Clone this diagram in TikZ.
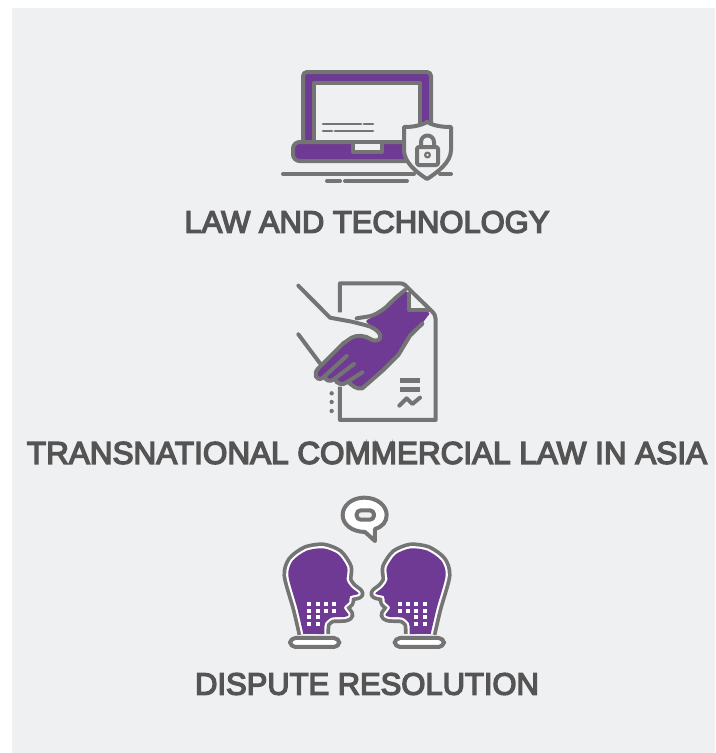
\documentclass[tikz,border=0pt]{standalone}
\usepackage{fontspec}
\newfontfamily\captionfont[FakeBold=4.5]{Liberation Sans}
\usetikzlibrary{positioning}

\definecolor{panelbg}{HTML}{EFF0F2}
\definecolor{iconpurple}{HTML}{6E3A93}
\definecolor{icongray}{HTML}{747474}
\definecolor{labelgray}{HTML}{545454}

\newcommand{\headpath}{plot[smooth,tension=.45] coordinates {(100,507) (82,430) (55,332) (68,287) (110,257) (160,250) (205,268) (232,308) (230,345) (245,368) (266,386) (240,394) (238,410) (222,428) (236,450) (222,456) (185,458) (165,475) (163,507)}}
\newcommand{\headicon}{%
  \draw[icongray, line width=8.8pt, line join=round] \headpath;
  \draw[white, line width=3.2pt, line join=round] \headpath;
  \fill[iconpurple] \headpath;
  \foreach \dotx in {118,143,168,192}
    \foreach \doty in {417,437}
      \fill[white] (\dotx-6,\doty-6) rectangle (\dotx+6,\doty+6);
  \foreach \dotx in {118,143}
    \foreach \doty in {457,478}
      \fill[white] (\dotx-6,\doty-6) rectangle (\dotx+6,\doty+6);
  \draw[icon, fill=white, rounded corners=4pt] (60,519) rectangle (208,546);
}

\begin{document}
\begin{tikzpicture}[
  x=0.75pt, y=-0.75pt,
  icon/.style={draw=icongray, line width=3pt, line join=round},
  iconline/.style={draw=icongray, line width=3pt, line cap=round, line join=round},
  caption/.style={font=\captionfont\fontsize{23.2}{27}\selectfont, text=labelgray, inner sep=0pt, anchor=center}
]
\useasboundingbox (0,0) rectangle (715,753);
\fill[white] (0,0) rectangle (715,753);
\fill[panelbg] (12,8) rectangle (715,753);

% Laptop
\draw[icon, fill=iconpurple, rounded corners=3pt] (303,143) -- (303,72) -- (431,72) -- (431,143) -- cycle;
\draw[icon, fill=panelbg] (314,83) rectangle (420,143);
\draw[icon, fill=iconpurple, rounded corners=5pt] (293,142) -- (293,161) -- (412,161) -- (412,142) -- cycle;
\draw[icon, fill=panelbg] (353,142) rectangle (382,152);
\draw[iconline, line width=2pt] (323,124) -- (361,124) (364,124) -- (373,124);
\draw[iconline, line width=2pt] (323,131) -- (332,131) (335,131) -- (373,131);

% Shield with lock
\draw[icon, fill=panelbg] (427,122) .. controls (420,126) and (412,127) .. (404,127)
  -- (404,150) .. controls (404,162) and (416,172) .. (427,179)
  .. controls (438,172) and (451,162) .. (451,150) -- (451,127)
  .. controls (443,127) and (434,126) .. (427,122) -- cycle;
\draw[icon, rounded corners=1.5pt] (417,147) rectangle (438,165);
\draw[icon] (421,147) -- (421,142) arc[start angle=180, end angle=360, radius=6.5] -- (434,147);
\draw[icon, line width=1.6pt] (427.5,155) circle[radius=2.4];

% Ground lines
\draw[iconline] (283,174) -- (414,174) (440,174) -- (451,174);
\draw[iconline] (327,181) -- (340,181) (345,181) -- (407,181);

\node[caption] (techlabel) at (367,222) {LAW AND TECHNOLOGY};

% Contract sheet and handshake, in a scope of its own
\begin{scope}[shift={(285,275)}, scale=0.3333]
  \draw[iconline, line cap=butt] (165,112) -- (165,25) -- (345,25) .. controls (358,25) and (362,32) .. (372,42)
    -- (440,108) .. controls (448,116) and (452,122) .. (452,132) -- (452,435) -- (165,435) -- (165,335);
  \fill[iconpurple, rounded corners=2pt] (362,45) -- (372,60) -- (372,108) -- (437,112) -- (410,147) -- (375,182)
    -- (340,240) -- (295,285) -- (235,338) -- (220,340) -- (200,325) -- (175,325) -- (155,315) -- (135,315)
    -- (115,310) -- (95,312) -- (88,295) -- (100,280) -- (150,235) -- (175,205) -- (205,185) -- (240,183)
    -- (270,197) -- (287,185) -- (280,170) -- (240,138) -- (265,125) -- (300,100) -- (330,70) -- cycle;
  \draw[iconline, line cap=butt] (372,52) -- (372,105) -- (435,105);
  % Arms and outline of the hands
  \draw[iconline] (40,32) -- (135,128) -- (200,140) -- (240,150) .. controls (262,155) and (278,165) .. (286,180)
    .. controls (290,195) and (272,202) .. (258,193) .. controls (240,180) and (215,180) .. (200,188) -- (175,205);
  \draw[iconline, rounded corners=3pt] (215,130) -- (265,122) -- (300,100) -- (330,70) -- (360,45);
  \draw[iconline] (40,178) -- (105,265);
  % Fingers
  \draw[iconline] (175,205) -- (100,280) .. controls (84,296) and (92,318) .. (112,310) -- (185,243);
  \draw[iconline] (120,303) .. controls (118,318) and (138,322) .. (148,312) -- (207,267);
  \draw[iconline] (150,310) .. controls (152,328) and (175,332) .. (185,322) -- (232,292);
  \draw[iconline] (188,320) .. controls (200,330) and (215,345) .. (232,340) -- (295,285) -- (340,240) -- (375,182) -- (412,146);
  % Sheet marks
  \draw[icongray, line width=3.4pt] (345,316) -- (405,316) (345,343) -- (405,343);
  \draw[iconline] (343,392) -- (365,370) -- (382,387) -- (405,368);
  \foreach \doty in {355,381,408}
    \fill[icongray] (140,\doty) circle[radius=6.5];
\end{scope}

\node[caption, font=\captionfont\fontsize{23.6}{27}\selectfont] (asialabel) at (367,453) {TRANSNATIONAL COMMERCIAL LAW IN ASIA};

% Speech bubble
\begin{scope}[shift={(270,465)}, scale=0.3333]
  \draw[icon, fill=white] (283,98) .. controls (245,98) and (218,122) .. (218,150)
    .. controls (218,178) and (245,200) .. (285,201) -- (315,228) -- (315,192)
    .. controls (338,185) and (350,170) .. (350,150) .. controls (350,122) and (322,98) .. (283,98) -- cycle;
  \draw[icon, fill=panelbg, rounded corners=3pt] (260,136) rectangle (312,164);
\end{scope}

% Two heads facing each other
\begin{scope}[shift={(270,465)}, scale=0.3333]
  \headicon
\end{scope}
\begin{scope}[shift={(464,465)}, xscale=-0.3333, yscale=0.3333]
  \headicon
\end{scope}

\node[caption] (disputelabel) at (367,684) {DISPUTE RESOLUTION};
\end{tikzpicture}
\end{document}
